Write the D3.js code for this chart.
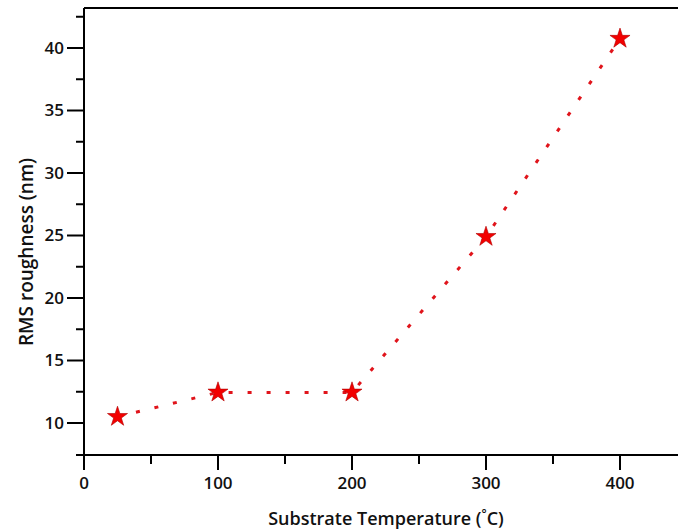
<!doctype html>
<html lang="en">
<head>
<meta charset="UTF-8">
<title>RMS roughness</title>
<style>
  body { margin: 0; background: #fff; }
  svg { display: block; }
  .tick-label { font: 600 17px "Open Sans", sans-serif; fill: #111; }
  .title { font: 600 18px "Open Sans", sans-serif; fill: #111; }
  .axis-line { stroke: #000; stroke-width: 2; fill: none; }
  .line { fill: none; stroke: #e0141b; stroke-width: 3; stroke-dasharray: 4 15; stroke-linecap: butt; }
</style>
</head>
<body>
<script src="https://cdn.jsdelivr.net/npm/d3@7"></script>
<script>
var temps = [25, 100, 200, 300, 400];
var rms = [10.5, 12.45, 12.45, 24.9, 40.75];
var xMajor = [0, 100, 200, 300, 400];
var xMinor = [50, 150, 250, 350, 450];
var yMajor = [10, 15, 20, 25, 30, 35, 40];
var yMinor = [12.5, 17.5, 22.5, 27.5, 32.5, 37.5, 42.5];

var width = 678, height = 531;

var x = d3.scaleLinear().domain([0, 450]).range([84, 687]);
var y = d3.scaleLinear().domain([7.44, 43.2]).range([455, 8]);

var svg = d3.select("body").append("svg")
  .attr("width", width)
  .attr("height", height);

// frame lines
svg.append("line").attr("class", "axis-line")
  .attr("x1", 76).attr("x2", width).attr("y1", y(7.44)).attr("y2", y(7.44));
svg.append("line").attr("class", "axis-line")
  .attr("x1", x(0)).attr("x2", x(0)).attr("y1", y(43.2)).attr("y2", y(7.44));
svg.append("line").attr("class", "axis-line")
  .attr("x1", x(0)).attr("x2", width).attr("y1", y(43.2)).attr("y2", y(43.2));

// x ticks
svg.selectAll(".xmaj").data(xMajor).enter().append("line")
  .attr("class", "axis-line")
  .attr("x1", function(d){ return x(d); }).attr("x2", function(d){ return x(d); })
  .attr("y1", 455).attr("y2", 470);
svg.selectAll(".xmin").data(xMinor).enter().append("line")
  .attr("class", "axis-line")
  .attr("x1", function(d){ return x(d); }).attr("x2", function(d){ return x(d); })
  .attr("y1", 455).attr("y2", 464);
svg.selectAll(".xlab").data(xMajor).enter().append("text")
  .attr("class", "tick-label")
  .attr("x", function(d){ return x(d); })
  .attr("y", 489)
  .attr("text-anchor", "middle")
  .text(function(d){ return d; });

// y ticks
svg.selectAll(".ymaj").data(yMajor).enter().append("line")
  .attr("class", "axis-line")
  .attr("x1", 67).attr("x2", x(0))
  .attr("y1", function(d){ return y(d); }).attr("y2", function(d){ return y(d); });
svg.selectAll(".ymin").data(yMinor).enter().append("line")
  .attr("class", "axis-line")
  .attr("x1", 76).attr("x2", x(0))
  .attr("y1", function(d){ return y(d); }).attr("y2", function(d){ return y(d); });
svg.selectAll(".ylab").data(yMajor).enter().append("text")
  .attr("class", "tick-label")
  .attr("x", 64)
  .attr("y", function(d){ return y(d); })
  .attr("dy", "0.35em")
  .attr("text-anchor", "end")
  .text(function(d){ return d; });

// titles
svg.append("text").attr("class", "title")
  .attr("x", 386).attr("y", 525)
  .attr("text-anchor", "middle")
  .html("Substrate Temperature (<tspan dy='-7' font-size='12'>°</tspan><tspan dy='7'>C)</tspan>");
svg.append("text").attr("class", "title")
  .attr("transform", "translate(33,252) rotate(-90)")
  .attr("text-anchor", "middle")
  .style("font-size", "19px")
  .text("RMS roughness (nm)");

// data
var pts = temps.map(function(t, i){ return [t, rms[i]]; });
var line = d3.line()
  .x(function(d){ return x(d[0]); })
  .y(function(d){ return y(d[1]); });

svg.append("path").datum(pts)
  .attr("class", "line")
  .attr("d", line);

svg.selectAll(".star").data(pts).enter().append("path")
  .attr("d", d3.symbol().type(d3.symbolStar).size(125))
  .attr("transform", function(d){ return "translate(" + x(d[0]) + "," + y(d[1]) + ")"; })
  .attr("fill", "#f20000")
  .attr("stroke", "#b00000")
  .attr("stroke-width", 0.6);
</script>
</body>
</html>
